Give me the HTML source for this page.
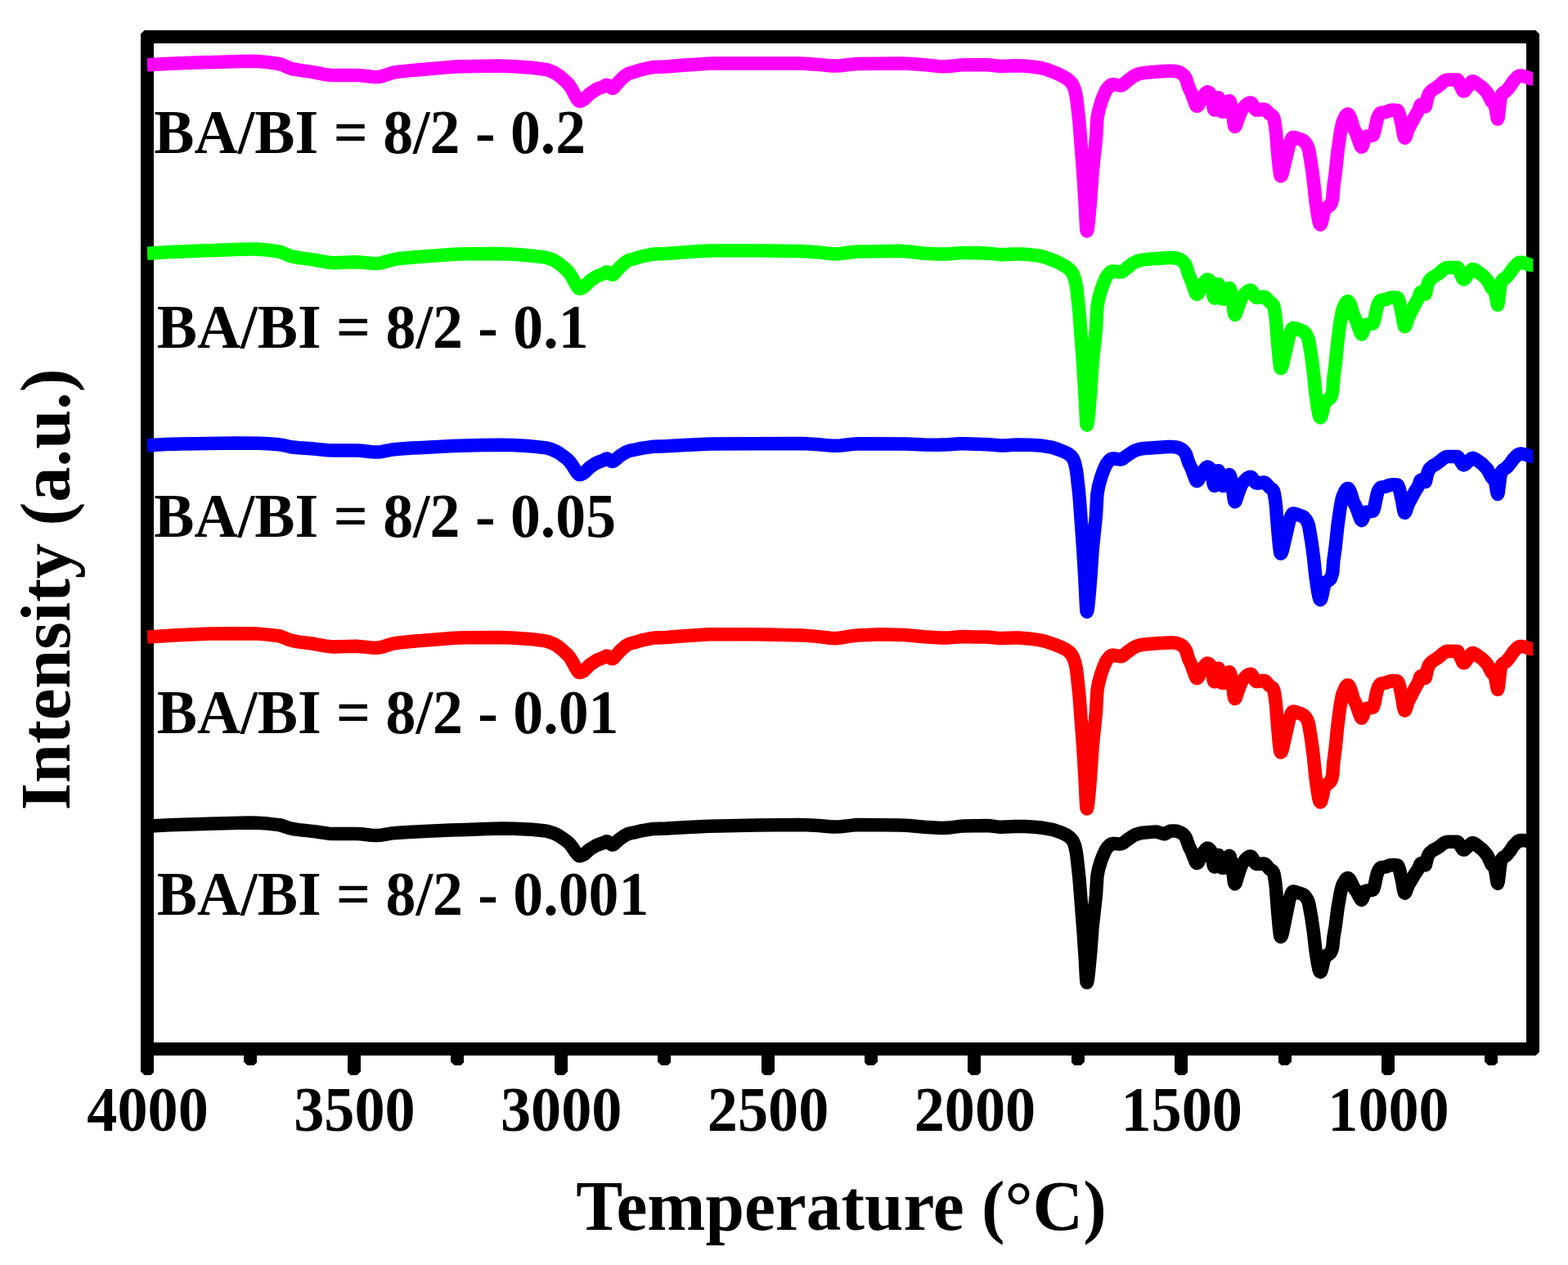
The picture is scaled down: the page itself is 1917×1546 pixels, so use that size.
<!DOCTYPE html>
<html lang="en"><head><meta charset="utf-8"><title>FTIR spectra</title>
<style>html,body{margin:0;padding:0;background:#fff}body{width:1917px;height:1546px;overflow:hidden}svg{display:block}text{font-family:"Liberation Serif",serif;font-weight:bold;fill:#000}</style></head><body>
<svg role="img" aria-label="FTIR spectra of BA/BI = 8/2 samples" width="1917" height="1546" viewBox="0 0 1917 1546">
<rect width="1917" height="1546" fill="#fff"/>
<g fill="#000" shape-rendering="crispEdges">
<path fill-rule="evenodd" d="M176.5 37H1877.5L1882 41.5V1285.5L1877.5 1290H176.5L172 1285.5V41.5ZM188 53H1866V1274H188Z"/>
<path d="M172.0 1280V1310L176.0 1314H184.0L188.0 1310V1280Z"/>
<path d="M298.4 1280V1298L302.4 1302H310.4L314.4 1298V1280Z"/>
<path d="M424.8 1280V1310L428.8 1314H436.8L440.8 1310V1280Z"/>
<path d="M551.2 1280V1298L555.2 1302H563.2L567.2 1298V1280Z"/>
<path d="M677.6 1280V1310L681.6 1314H689.6L693.6 1310V1280Z"/>
<path d="M804.0 1280V1298L808.0 1302H816.0L820.0 1298V1280Z"/>
<path d="M930.5 1280V1310L934.5 1314H942.5L946.5 1310V1280Z"/>
<path d="M1056.9 1280V1298L1060.9 1302H1068.9L1072.9 1298V1280Z"/>
<path d="M1183.3 1280V1310L1187.3 1314H1195.3L1199.3 1310V1280Z"/>
<path d="M1309.7 1280V1298L1313.7 1302H1321.7L1325.7 1298V1280Z"/>
<path d="M1436.1 1280V1310L1440.1 1314H1448.1L1452.1 1310V1280Z"/>
<path d="M1562.5 1280V1298L1566.5 1302H1574.5L1578.5 1298V1280Z"/>
<path d="M1688.9 1280V1310L1692.9 1314H1700.9L1704.9 1310V1280Z"/>
<path d="M1815.3 1280V1298L1819.3 1302H1827.3L1831.3 1298V1280Z"/>
</g>
<clipPath id="plot"><rect x="180" y="0" width="1694.3" height="1546"/></clipPath>
<g fill="none" stroke-width="16.5" stroke-linejoin="round" stroke-linecap="butt" clip-path="url(#plot)">
<path stroke="#000000" d="M180 1009.7L207 1008.3L231.5 1007.4L293 1005.8L307 1005.6L315.5 1005.8L327.5 1006.6L341 1008.1L344.5 1008.9L353.5 1012L357.8 1013L365.5 1014.1L384 1016.1L401.5 1018.7L407.5 1019.1L435.5 1018.9L441 1019.3L454 1020.8L460 1021.1L466 1020.7L479.5 1018.4L487 1017.7L503 1016.8L550.5 1014.6L570.6 1014.1L595 1013L613 1012.5L629 1012.8L650 1013.7L665 1015.2L669 1015.8L676.5 1018.1L679.5 1019.4L683 1021.2L692.5 1027.7L695 1029.8L697 1032L699.5 1035.1L703 1040.4L706 1044.3L707.5 1045.9L708.4 1046.2L710.5 1045.8L714 1044.2L721 1038L728.5 1033.5L731 1032.4L737.6 1030.2L741 1028.5L741.8 1028.3L742.5 1028.5L747.5 1032.1L748.5 1032.5L749.5 1032.4L750.5 1031.7L756.5 1026.4L760.5 1023.4L765 1020.5L768 1019.1L770.5 1018.3L775.5 1017.4L784 1015.3L796 1013.3L799.5 1012.9L814.5 1012.5L836 1011.2L866.5 1009.7L925 1008.4L976.5 1007.9L986 1008.2L1001 1009L1014.5 1010.3L1020 1010.6L1027.5 1010.3L1042.5 1008.6L1049 1008.1L1100.7 1008.4L1111.5 1009L1130 1010.8L1151.5 1011.9L1160 1011.6L1173 1009.9L1178 1009.5L1206 1009.1L1210 1009.3L1219.5 1010.4L1224 1010.7L1241.5 1009.9L1253 1009.9L1265 1010.8L1273 1011.5L1278 1012.3L1286.7 1013.9L1290 1014.9L1297.5 1017.6L1304 1020.6L1307.5 1023L1310 1025.5L1311.5 1027.6L1312.5 1029.5L1314 1033.3L1315.5 1039.8L1316.5 1046.2L1319.5 1074L1324.5 1138.2L1326.5 1167.4L1328 1194.8L1328.5 1200.1L1328.8 1200.8L1329 1200.6L1329.5 1199.1L1330 1196.3L1331.5 1182.9L1333.5 1160.8L1335.5 1133.3L1339.9 1094.6L1341.4 1070.9L1343 1062.2L1346 1052.3L1348.5 1045.8L1352 1038.3L1353.5 1036.1L1356 1033.4L1357.5 1032.1L1359 1031.3L1360.5 1031L1362.5 1031L1368.5 1031.5L1371.5 1031.1L1373.5 1030.1L1377.5 1026.9L1385 1021.7L1387.5 1020.4L1391.5 1019L1394.5 1018.2L1397.5 1017.7L1413.5 1016.4L1423.5 1019.3L1430.3 1015.8L1433.5 1015.6L1437 1015.6L1438.5 1015.8L1441 1016.5L1444 1017.8L1445.5 1018.7L1447 1020L1449.5 1023.1L1450.5 1025.3L1453.3 1033.7L1456.6 1040.2L1461.5 1052.7L1462.5 1054.5L1463.3 1055L1464 1054.7L1465 1053.6L1469 1045.5L1473 1039.3L1474.5 1037.5L1476 1036.6L1477 1036.7L1478.5 1037.7L1480 1039.5L1480.5 1040.6L1482 1047.2L1483.3 1055.9L1484 1058.4L1484.7 1059.5L1485 1059.2L1485.5 1057.9L1488.5 1047.1L1489 1045.8L1489.5 1045.1L1489.7 1045.1L1490 1045.5L1490.5 1047.4L1493 1059.8L1493.3 1060.4L1495.5 1060.8L1496 1060.8L1496.5 1060.3L1497 1059.2L1499 1052.9L1501 1048.5L1502 1046.7L1502.5 1046.1L1503 1045.9L1503.5 1046.3L1504 1047.5L1506.2 1057L1507 1062.4L1508.5 1075.3L1509 1078.5L1509.5 1080.2L1509.7 1080.3L1510 1080.2L1510.5 1079.5L1511 1078.3L1513.5 1069.7L1516.5 1060.7L1518 1056.9L1519.5 1054.6L1522.5 1050.7L1524.5 1048.6L1526 1047.4L1527.5 1046.7L1528.5 1046.5L1529.5 1046.6L1530 1047L1531.5 1049.1L1534.5 1054.4L1535.5 1055.6L1536 1055.9L1538.5 1056L1544.5 1055.5L1546 1055.7L1547 1056.2L1548.5 1057.7L1552 1061.9L1555 1064L1556 1064.9L1557 1066.5L1557.5 1068.2L1559 1077L1560 1085.9L1562 1112.8L1564 1134.7L1565 1142.6L1565.5 1144.6L1565.8 1145L1566.5 1144.4L1567 1143.3L1568 1139.9L1576 1100.5L1578.5 1093L1580 1090L1580.9 1089.5L1582.5 1089.7L1590.5 1092.1L1593 1093.1L1594.5 1094.1L1596 1095.6L1598.5 1099.6L1599.5 1101.8L1600.5 1105.7L1603.5 1122.3L1606 1139.8L1608.4 1161.1L1611 1177.6L1612.5 1184.7L1613.5 1187.4L1614.3 1188L1615 1187.3L1615.5 1186.1L1616.5 1182.5L1618.5 1173.8L1619.5 1170.5L1620 1169.5L1621.5 1168L1624.5 1166.3L1626 1165.1L1627.5 1162.9L1628.5 1160L1629.3 1157L1630.3 1146.1L1632.6 1132.4L1635.5 1110L1638.5 1092.7L1640.5 1084.2L1641.5 1081.1L1644.5 1075.8L1645.5 1074.5L1646.5 1073.6L1647.5 1073.1L1648.5 1073.2L1650.5 1075.3L1652.5 1079.2L1654.5 1084L1658 1088.7L1662.5 1097.2L1664 1099.4L1664.6 1099.8L1665 1099.6L1666 1097.9L1667.5 1094.1L1668.5 1090.5L1669.2 1089.1L1671.5 1088.5L1678 1087.7L1678.5 1087.5L1679 1086.8L1680.5 1082.3L1683 1070.6L1684 1067.1L1685.5 1063.4L1687.5 1060.7L1688 1060.4L1689 1060.1L1694.5 1059.3L1698 1057.8L1699.3 1057.4L1703.8 1057L1708.4 1057.4L1709 1057.9L1709.5 1058.8L1711 1062.9L1714 1076.2L1716 1087.7L1717 1091.2L1717.5 1091.5L1718 1091.1L1719 1089.2L1721.7 1081.8L1727 1073.1L1729.5 1068.6L1733.5 1062.7L1734.8 1060.2L1736 1056.6L1736.5 1055.7L1737.5 1055L1738.5 1054.9L1740.5 1056L1742 1057.2L1742.7 1057.4L1743 1056.7L1744.5 1050.2L1745.5 1047L1747 1043.7L1748 1042.4L1751.5 1039.4L1757 1036.5L1760.5 1034.1L1764.5 1030.9L1767.5 1029.3L1770 1028.8L1781.7 1028.8L1782.5 1029.2L1783 1029.8L1787.5 1036.9L1788.5 1038.2L1789 1038.5L1790 1038.5L1791 1038L1798.5 1031L1799.5 1030.4L1800.5 1030.1L1802 1030.5L1804.5 1032L1808.1 1035.1L1811.5 1037.6L1813 1039L1817.5 1044.4L1818.5 1045.8L1823.5 1056.4L1826.5 1059.9L1827.7 1061.9L1828.5 1065.7L1830.2 1076.7L1830.5 1078.5L1831 1079.8L1831.8 1077L1834 1058.1L1835.3 1051.3L1836.5 1049.2L1837.5 1048.1L1841 1045.9L1843 1043.9L1846 1040.2L1850 1034.1L1851.5 1032.4L1855.5 1028.4L1857 1027.6L1858.5 1027.1L1861 1027L1864.5 1027.3L1871 1028.8L1880.2 1028.1"/>
<path stroke="#ff0000" d="M180 778.5L216 776.2L257.5 774.4L293.5 774.2L315.5 774.6L327.5 775.6L341 777.3L344.5 778.3L353.5 781.9L357.8 783.2L366 784.6L383.5 786.8L397 789.3L402 790L407.9 790.4L435.5 789.8L441 790.2L453.5 791.4L459.5 791.7L462.5 791.6L465.5 791.1L469 790.2L480 786.7L488 785.5L504.5 783.8L555.5 779.8L570.6 779.2L609.5 778.9L625 779.4L643.5 780.7L652 781.4L665 783.1L668 783.6L671.5 784.7L675.5 786.3L678 787.5L681 789.3L685 792.2L693 799.3L695 801.4L697 804.1L699.5 808.1L703 814.7L706 819.7L707.5 821.6L708.4 822L710.5 821.6L714 819.7L715.5 818.3L721 812.6L728.5 807.5L731 806.3L737.6 803.8L741 801.8L741.8 801.6L742.5 801.8L748 805L748.9 805.1L749.5 804.9L750.5 804.1L752.5 801.6L756.5 797.2L760.5 793.2L765 789.4L768.5 787.3L770.5 786.5L775.5 785.3L784 782.6L796 780.1L799.5 779.6L814.5 779L836 777.3L867 775.3L875 775.2L925 775.2L981 776.4L1001.5 778.1L1014.5 779.7L1020.6 780.2L1028 779.5L1042 777.2L1048 776.5L1075 775.2L1106 776.1L1114.5 776.7L1130 778.2L1150 779.4L1160 779.4L1173 778.3L1178.5 778.1L1192.5 778.5L1207 778.5L1220 779.9L1224 780.1L1240.5 779.5L1245.5 779.5L1257.5 780.4L1272 782.4L1278.5 784L1291 788.3L1297.5 790.9L1303.5 794L1307 796.6L1310 799.9L1312 803.5L1314 808.8L1315.5 815.5L1316.5 822.1L1319.5 850.5L1324.3 915L1326.5 951.4L1328 981.8L1328.5 987.6L1328.8 988.4L1329 988.1L1329.5 986.5L1330 983.5L1331.5 968.6L1333.5 944.1L1335.5 913.6L1339.9 870.9L1341.4 844.7L1343 835L1346 824.1L1348.5 816.9L1352 808.6L1353.5 806.2L1356 803.2L1357.5 801.7L1359 800.8L1360.1 800.6L1362.5 800.9L1369 802.2L1370.5 802.3L1371.5 802L1373.5 800.9L1377.5 797.5L1385 792L1387 790.9L1391 789.2L1394.5 788.2L1400 787.5L1414.5 786.3L1429 785.4L1433.5 785.5L1438 785.9L1441 786.8L1444 788.2L1446 789.6L1447.5 791.2L1449.4 793.9L1450 795L1453.3 805.7L1456.6 812.8L1461.5 826.5L1462.5 828.4L1463 828.9L1463.5 829L1464 828.7L1465 827.6L1469 819.5L1473 813.3L1474.5 811.5L1476 810.6L1477 810.7L1478.5 811.7L1480 813.5L1480.5 814.6L1482 821.1L1483.3 829.7L1484 832.2L1484.7 833.3L1485 832.9L1485.5 831.4L1488.5 819.1L1489 817.6L1489.5 816.8L1489.7 816.8L1490 817.3L1490.5 819.4L1493 833.7L1493.3 834.3L1494 834.6L1495.9 834.8L1496.5 834.3L1497.5 832L1499 827.7L1501 823.6L1502 822L1502.5 821.5L1503 821.3L1503.5 821.7L1504.5 824.5L1506.5 833.5L1508.5 849.2L1509 852.3L1509.5 853.9L1509.7 854L1510 853.9L1510.5 853.3L1511 852.2L1513.5 844.6L1516.5 836.5L1518 833.1L1519.5 831L1522.5 827.5L1524.5 825.7L1526 824.6L1527.5 824L1528.5 823.8L1529.5 823.9L1530 824.3L1531.5 826.3L1534.5 831.5L1535.5 832.6L1536 832.9L1538 832.8L1543 832L1545.4 831.8L1546.5 832.1L1547.5 832.8L1552 838L1555 840L1556 840.9L1557 842.5L1557.5 844.2L1559 852.8L1560 861.5L1562 887.9L1564 909.4L1565 917.1L1565.5 919.1L1565.8 919.5L1566.5 919L1567 918L1568 914.9L1576 879.4L1578.5 872.6L1580 869.9L1580.9 869.4L1582.5 869.6L1590.5 872.4L1593 873.5L1594.5 874.6L1596 876.3L1597.5 878.7L1598.5 880.7L1599.5 883.2L1600.5 887.7L1603.5 906.3L1606 926L1608.4 950L1611 968.6L1612.5 976.6L1613.5 979.6L1614.3 980.3L1614.5 980.2L1615 979.5L1615.5 978.2L1616.5 974.4L1618.5 965.1L1619.5 961.6L1620 960.5L1621.5 958.9L1624.5 957.1L1626 955.8L1626.8 954.8L1627.5 953.4L1628.5 950.3L1629.3 946.4L1630.3 932.2L1632.6 914.4L1635.5 885.3L1638.5 862.7L1640.5 851.7L1641.5 847.7L1644.5 840.7L1646 838.4L1647 837.4L1647.9 837.2L1648.5 837.4L1649.5 838.8L1650.5 840.6L1652.5 846.5L1654.5 853.8L1658 860.8L1662.5 873.8L1664 877.1L1664.5 877.7L1665 877.5L1666 875.6L1667.5 871.6L1668.5 867.8L1669.2 866.3L1671.5 865.6L1678 864.8L1678.5 864.6L1679 863.8L1680.5 859.1L1683 846.5L1684 842.8L1685 839.8L1687 836.5L1688.4 835.4L1694.5 834.5L1698 832.8L1699.3 832.5L1703.5 832L1707 832.2L1708.5 832.5L1709 833L1709.5 833.9L1710.9 838L1711.5 840.4L1714 852.4L1716 864.5L1717 868.1L1717.5 868.5L1718 868.1L1719 865.8L1721.7 857.2L1727 847L1729.5 841.8L1733.5 834.9L1734.8 832L1736 827.8L1736.5 826.8L1737.5 825.9L1738.5 825.8L1740.5 827.1L1742 828.5L1742.7 828.7L1743 827.9L1744.5 820.4L1745.5 816.8L1747 812.9L1748 811.4L1751.5 808L1757 804.6L1760.5 801.9L1764.5 798.2L1767.5 796.4L1768.5 796L1770 795.8L1782 795.9L1783 797.2L1788 808.8L1788.5 809.6L1789 810.2L1789.4 810.3L1790.5 809.9L1791.5 808.9L1794.5 804.5L1798 799.9L1799 798.8L1800 798.1L1800.5 798L1801.5 798.2L1804 799.5L1811.5 804.8L1813.5 806.5L1818 811.5L1819 813L1823.5 821.6L1826.5 824.8L1827.5 826.4L1828 827.7L1828.5 830L1830.2 840L1831 842.7L1831.5 841.4L1831.8 839.9L1834 821L1835 815.2L1835.5 813.7L1836.5 812L1837.5 811L1841 808.8L1843 806.7L1846.5 802.3L1850.2 796.7L1854.5 792.1L1855.5 791.2L1857 790.4L1858.5 789.9L1859.5 789.9L1864.5 790.7L1871 792.9L1874.5 793.1L1880.2 793.1"/>
<path stroke="#0000ff" d="M180 544.2L203 543.1L222 542.4L290.5 541.5L316.5 541.8L328 542.3L341 543.3L344.5 543.8L353.5 545.8L357.5 546.5L365.5 547.3L384 548.6L400.5 550.3L407.5 550.6L435.5 550.4L441 550.8L454 552.3L460.5 552.6L466 552.2L479.5 549.5L487.5 548.7L504 547.6L553.5 545.1L590.5 544L611 543.7L626 544L644.5 545L652 545.6L668 547.4L671.5 548.4L675.5 549.7L681 552.3L685 554.7L693 560.8L695 562.6L697 564.9L699.5 568.3L703 574L706 578.2L707.5 579.9L708.4 580.2L710.5 579.8L714 577.9L715.5 576.7L721 571.2L728.5 566.2L731 565L737.6 562.6L741 560.7L741.8 560.5L742.5 560.7L747.5 563.7L748.5 564L749.5 563.9L750.5 563.3L756.5 558.3L760.5 555.5L765 552.7L768 551.5L770.5 550.7L775.5 549.8L784 547.9L796 546.1L799.5 545.7L814.5 545.3L836.5 544L869 542.6L976.5 542.1L986 542.3L1001 543.2L1015 544.6L1021 544.8L1027.5 544.5L1043 542.7L1049.5 542.3L1107 542.5L1130 543.5L1146.5 543.7L1160.5 543.3L1173 542.3L1178.5 542.2L1208.5 543.3L1223.5 544.5L1228 544.4L1242.5 543.5L1258 543.7L1272 544.5L1281 545.8L1286.7 546.9L1294 549.3L1301 552.1L1306.5 555.1L1309.5 557.4L1311.5 559.9L1313.4 564.2L1314.5 567.9L1315.9 574.7L1316.5 579L1319 601.3L1320 612.9L1324.3 672.6L1326.5 709.8L1328 740.9L1328.5 746.9L1328.8 747.7L1329 747.4L1329.5 745.8L1330 742.8L1331.5 728L1333.5 703.5L1335.5 673.1L1339.9 630.5L1341.4 604.3L1343 594.7L1346 583.8L1348.5 576.6L1352 568.4L1353.5 566L1356 562.9L1357.5 561.5L1359 560.6L1360.5 560.4L1362.5 560.5L1368.5 561.4L1370.5 561.4L1371.5 561.2L1373.5 560.1L1377.5 557L1384.5 552.3L1386.5 551.2L1390 549.8L1394 548.7L1399 548L1413.5 546.9L1428.5 546.1L1433 546.1L1438 546.5L1441 547.3L1444 548.7L1446 550.1L1447.5 551.6L1449.4 554.2L1450 555.3L1453.3 565.6L1456.6 572.4L1461.5 585.5L1462.5 587.5L1463 587.9L1463.5 588L1464 587.7L1465 586.6L1469 579L1473 573.1L1474.5 571.4L1476 570.5L1477 570.6L1478.5 571.6L1480 573.5L1480.5 574.6L1482 581.3L1483.3 590.1L1484 592.7L1484.7 593.8L1485 593.4L1485.5 591.7L1488.5 577.9L1489 576.2L1489.5 575.3L1489.7 575.3L1490 575.8L1490.5 578L1492.5 590.1L1493 592.6L1493.5 593.4L1495.9 593.8L1496.5 593.3L1497.5 591L1499 586.6L1501 582.4L1502 580.8L1502.5 580.3L1503 580.1L1503.5 580.5L1504.5 583.3L1506.5 592.5L1508.5 608.5L1509 611.5L1509.5 613.2L1509.7 613.3L1510 613.2L1510.5 612.6L1511 611.5L1513.5 603.8L1516.5 595.7L1518 592.2L1519 590.7L1522 587.1L1524 585.1L1525.5 583.9L1527.5 583L1528.9 582.8L1529.5 582.9L1531 584.3L1534.5 589.4L1536 590.6L1538 590.5L1545 589.5L1546 589.6L1547 590.1L1548.5 591.6L1552 595.6L1555 597.7L1556 598.6L1557 600.1L1557.5 601.8L1559 610.3L1560 619L1562 645.2L1564 666.6L1565 674.2L1565.5 676.2L1565.8 676.6L1566.5 676.1L1567 675.1L1568 672.1L1576 637.3L1578.5 630.6L1580 628L1580.9 627.5L1582.5 627.7L1590.5 630.3L1593 631.4L1594.5 632.4L1596 634.1L1597.5 636.4L1598.5 638.3L1599.5 640.6L1600.5 644.9L1603.5 662.6L1606 681.3L1608.4 704.2L1611 721.9L1612.5 729.4L1613.5 732.3L1614.3 733L1614.5 732.9L1615 732.2L1615.5 730.9L1616.5 727L1618.5 717.5L1619.5 713.9L1620 712.8L1621.5 711.2L1624.5 709.3L1626 708L1626.8 707L1627.5 705.6L1628.5 702.4L1629.3 698.8L1630.3 685.5L1632.6 669L1635.5 641.8L1638.5 620.7L1640.5 610.4L1641.5 606.7L1644.5 600.2L1646 598L1647 597.1L1647.9 596.9L1648.5 597.1L1649.5 598.4L1650.5 600.2L1652.5 605.9L1654.5 612.9L1658 619.7L1662.5 632.2L1664 635.4L1664.6 636L1665 635.8L1666 634.2L1667.5 630.8L1668.5 627.5L1669.2 626.2L1671.5 625.6L1678 624.9L1678.5 624.7L1679 623.9L1680.5 619.2L1683 606.7L1684 602.9L1685 599.9L1687 596.7L1688.4 595.6L1694.5 594.7L1698 593L1699.3 592.7L1703.5 592.2L1707 592.4L1708.5 592.7L1709 593.1L1709.5 594L1710.9 597.9L1711.5 600.1L1714 611.4L1716 622.9L1717 626.4L1717.5 626.7L1718 626.3L1719 624.1L1721.7 616L1727 606.3L1729.5 601.4L1733.5 594.9L1734.8 592.1L1736 588.2L1736.5 587.2L1737.5 586.4L1738.5 586.3L1740.5 587.4L1742 588.8L1742.7 589L1743 588.2L1744.5 581.1L1745.5 577.8L1747 574.1L1748 572.7L1751.5 569.5L1756.5 566.7L1760.5 563.7L1764.5 560.3L1766.5 559L1768 558.3L1770 558L1782 558.1L1783 559L1788 567.3L1788.5 567.9L1789.4 568.4L1790.5 568.1L1791.5 567.4L1794.5 564.4L1798.5 560.7L1799.5 560.1L1800.5 559.8L1802 560.2L1804.5 561.5L1808.1 564.2L1811.5 566.5L1813.5 568.3L1818 573.1L1819 574.6L1823.5 583.2L1826.5 586.3L1827.5 587.8L1828 589.2L1828.5 591.4L1830.2 601.3L1831 604L1831.5 602.8L1831.8 601.4L1834 583.7L1835 578.3L1835.5 576.9L1836.5 575.3L1837.5 574.3L1841 572.2L1843 570.4L1846.5 566.2L1850.2 561L1854.5 556.7L1855.5 555.8L1857.5 554.9L1858.5 554.6L1860 554.6L1865 555.5L1871 557.6L1874.5 557.8L1880.2 557.8"/>
<path stroke="#00ff00" d="M180 309.8L207 308.1L231.5 307L293 304.7L307.5 304.4L314 304.6L326.5 305.5L341 307.5L344.5 308.5L353.5 312.3L357.8 313.7L366 315.1L383.5 317.4L397 320L402 320.8L407.9 321.2L435.5 320.3L441 320.6L453.5 321.7L458.5 321.9L462 321.8L465.5 321.4L469 320.5L480 317.3L488.5 316L504.5 314.5L555 310.8L570.6 310.2L608.2 310L622.5 310.5L639 311.6L651.5 312.7L667 314.6L670 315.4L673 316.5L676.5 317.9L679.5 319.6L684.5 322.9L693 330.3L694.6 331.9L696.5 334.4L699.2 338.6L703.5 346.5L706.5 351.3L707.5 352.4L708.4 352.8L710.5 352.4L714 350.5L715.5 349.1L721 343.4L728.5 338.3L731 337.1L737.6 334.6L741 332.6L742.5 332.5L748 335.7L748.9 335.8L749.5 335.6L750.5 334.8L752.5 332.3L756.5 328L760.5 324L765 320.2L768.5 318.2L770.5 317.4L775.5 316.2L784 313.5L796 311L799.5 310.5L814 310L834.5 308.4L854.5 307L872.5 306.2L925 306.2L978 306.9L986.5 307.3L1001 308.4L1014.5 310L1020.6 310.4L1027.5 310L1042.5 308L1049 307.4L1100.7 306.7L1111.5 307.5L1130 309.7L1146.5 310.5L1159 310.4L1174 309.1L1180 308.9L1207.5 309.6L1220 310.9L1224 311.2L1241 310.5L1249 310.6L1259.5 311.3L1271.5 312.8L1275 313.6L1278.5 314.7L1290.5 319.3L1297.5 322.6L1304 326.5L1307.5 329.2L1310 332.1L1312 335.6L1314 340.9L1315.5 347.6L1316.5 354.1L1319.5 382.4L1324.3 446.6L1326.5 482.8L1328 513L1328.5 518.8L1328.8 519.6L1329 519.3L1329.5 517.7L1330 514.6L1331.5 499.8L1333.5 475.2L1335.5 444.7L1339.9 401.8L1341.4 375.5L1343 365.9L1346 354.9L1348.5 347.7L1352 339.4L1353.5 337L1356 334L1357.5 332.5L1359 331.6L1360.1 331.4L1362.5 331.5L1368.5 332.5L1370.5 332.6L1371.5 332.3L1373.5 331.1L1377.5 327.6L1385 321.8L1387.5 320.5L1391.5 318.8L1395 317.9L1400.5 317.1L1414.5 315.9L1429 315L1433.5 315.1L1438 315.5L1441 316.4L1444 317.9L1446 319.4L1447.5 321L1449.4 323.7L1450 324.9L1453.3 335.9L1456.6 343.1L1461.5 357.2L1462.5 359.2L1463 359.7L1463.5 359.8L1464 359.5L1465 358.4L1469 350.4L1473 344.3L1474.5 342.5L1476 341.6L1477 341.7L1478.5 342.7L1480 344.5L1480.5 345.6L1482 352.2L1483.3 360.9L1484 363.4L1484.7 364.5L1485 364.1L1485.5 362.5L1488.5 349.7L1489 348.2L1489.5 347.3L1489.7 347.3L1490 347.8L1490.5 350L1492.5 362L1493 364.4L1493.5 365.2L1495.9 365.6L1496.5 365.1L1497.5 362.8L1499 358.4L1501 354.3L1502 352.7L1502.5 352.2L1503 352L1503.5 352.4L1504.5 355.2L1506.5 364.2L1508.5 380L1509 383.1L1509.5 384.7L1509.7 384.8L1510 384.7L1510.5 384.1L1511 383.1L1513.5 375.4L1516.5 367.4L1518 364L1519.5 361.9L1522.5 358.4L1524.5 356.5L1526 355.5L1527.5 354.9L1528.5 354.7L1529.5 354.8L1530 355.2L1531.5 357.2L1534.5 362.4L1535.5 363.5L1536 363.8L1538 363.7L1543 362.9L1545.4 362.7L1546.5 363L1547.5 363.7L1552 368.8L1555 370.9L1556 371.8L1557 373.3L1557.5 375.1L1559 383.7L1560 392.4L1562 418.7L1564 440.2L1565 447.9L1565.5 449.9L1565.8 450.3L1566.5 449.8L1567 448.8L1568 445.7L1576 410.6L1578.5 403.9L1580 401.2L1580.9 400.7L1582.5 400.9L1590.5 403.6L1593 404.8L1594.5 405.8L1596 407.5L1597.5 409.9L1598.5 411.9L1599.5 414.4L1600.5 418.8L1603.5 437.2L1606 456.6L1608.4 480.3L1611 498.8L1612.5 506.6L1613.5 509.6L1614.3 510.3L1614.5 510.2L1615 509.5L1615.5 508.3L1616.5 504.6L1618.5 495.7L1619.5 492.3L1620 491.2L1621.5 489.7L1624.5 487.9L1626 486.7L1627.5 484.4L1628.5 481.4L1629.3 477.5L1630.3 463.3L1632.6 445.5L1635.5 416.3L1638.5 393.7L1640.5 382.6L1641.5 378.6L1644.5 371.6L1646 369.3L1647 368.4L1647.9 368.1L1648.5 368.3L1649.5 369.7L1650.5 371.5L1652.5 377.4L1654.5 384.6L1658 391.7L1662.5 404.6L1664 407.9L1664.5 408.5L1665 408.3L1666 406.4L1667.5 402.4L1668.5 398.6L1669.2 397.1L1671.5 396.4L1678 395.6L1678.5 395.4L1679 394.7L1680.5 390L1683.5 375.8L1685 371.1L1686.5 368.6L1687.5 367.4L1688.4 366.9L1694.5 365.9L1698 364.3L1699.3 363.9L1703.5 363.5L1707 363.7L1708.5 364L1709 364.4L1709.5 365.4L1710.9 369.4L1711.5 371.7L1714 383.5L1716 395.4L1717 398.9L1717.5 399.3L1718 398.9L1719 396.6L1721.7 388L1727 377.8L1729.5 372.5L1733.5 365.7L1734.8 362.7L1736 358.5L1736.5 357.5L1737.5 356.6L1738.5 356.5L1740.5 357.8L1742 359.2L1742.7 359.4L1743 358.6L1744.5 351.2L1745.5 347.6L1747 343.8L1748 342.4L1751.5 339L1757 335.7L1760.5 333L1764.5 329.4L1767.5 327.6L1768.5 327.2L1770 327L1782 327.1L1783 328.4L1788 339.9L1788.5 340.7L1789 341.3L1789.4 341.4L1790.5 341L1791.5 339.9L1794.5 335.6L1798 330.9L1799 329.8L1800 329.1L1800.5 329L1801.5 329.2L1804 330.4L1811.5 335.6L1813.5 337.4L1818 342.2L1819 343.7L1823.5 352.1L1826.5 355.2L1827.5 356.7L1828 358L1828.5 360.3L1830.2 370L1831 372.7L1831.5 371.4L1831.8 369.9L1834 351.3L1835 345.6L1835.5 344.2L1836.5 342.5L1837.5 341.4L1841 339.3L1843 337.3L1846.5 332.9L1850.2 327.4L1854.5 322.9L1855.5 322L1857 321.2L1858.5 320.7L1859.5 320.7L1864.5 321.6L1871 323.9L1874.5 324.2L1880.2 324.3"/>
<path stroke="#ff00ff" d="M180 79.2L207.5 77.7L233 76.8L294 75L308 74.8L315.5 75L327.5 76.1L341 78L344.5 79L353.5 82.9L357.8 84.3L365.5 85.7L384 88.3L396.5 90.8L401.5 91.6L407.5 92.1L435.5 91.9L441 92.3L454 93.8L460 94.1L462.5 94L465.5 93.5L469 92.5L480 88.9L482.5 88.4L488 87.6L505 85.9L543.5 82.6L557 81.6L567 81.2L579.5 80.9L611.5 80.6L628.5 81.2L650 82.7L665 84.6L669 85.4L672.5 86.5L676.5 88.2L679.5 89.9L683 92.2L685 93.7L692.5 100.4L695 103L697 105.7L699.5 109.7L703 116.4L706 121.4L707.5 123.3L708.4 123.7L710.5 123.3L714 121.4L715.5 120.1L721 114.6L728.5 109.5L731 108.3L737.6 105.9L741 104L741.8 103.8L742.5 104L748 107.8L748.9 108L749.5 107.8L750.5 107L752.5 104.4L756.5 100L761 95.4L765 92L769 89.7L771 89L776 87.7L784.5 85L796 82.5L799.5 82L814 81.5L834.5 79.8L854.5 78.4L864.5 77.8L872.5 77.6L978.5 77.6L987 77.9L1001 78.9L1014.5 80.3L1020.6 80.6L1027.5 80.2L1042.5 78.4L1049 77.9L1101 77.6L1108.5 77.8L1118 78.3L1132 79.4L1146.5 80.9L1153 81.3L1160 81.1L1173 79.6L1178 79.2L1205.5 79.2L1210 79.5L1219.5 80.6L1224 80.9L1241.5 80.3L1250 80.5L1260 81.3L1271.5 82.8L1275 83.6L1278.5 84.6L1290.5 89L1297.5 92.2L1304 96L1307.5 98.7L1310 101.4L1312 104.8L1314 109.9L1315.5 116.4L1316.5 122.7L1319.5 149.9L1324.3 211.9L1326.5 246.8L1328 276L1328.5 281.6L1328.8 282.4L1329 282.2L1329.5 280.6L1330 277.7L1331.5 263.5L1333.5 240.1L1335.5 211L1339.9 170.2L1341.4 145.2L1343 136L1346.5 124L1349 117.4L1352.5 109.8L1355 106.6L1357.5 104.2L1359 103.3L1360.1 103.1L1362.5 103.3L1369 104.5L1370.5 104.6L1371.5 104.3L1373.5 103.1L1377.5 99.5L1385 93.7L1388 92L1392 90.4L1395.2 89.6L1401 88.8L1414.5 87.6L1429 86.7L1433.5 86.8L1438 87.2L1441 88.1L1444 89.5L1446 90.9L1447.5 92.4L1449.4 95.1L1450 96.2L1453.3 106.8L1456.6 113.8L1461.5 127.3L1462.5 129.2L1463 129.7L1463.5 129.8L1464 129.5L1465 128.4L1469 120.8L1473 114.9L1474.5 113.2L1476 112.3L1477 112.4L1478.5 113.4L1480 115.1L1480.5 116.2L1482 122.6L1483.3 131L1484 133.4L1484.7 134.5L1485 134.1L1485.5 132.8L1488.5 121.4L1489 120.1L1489.5 119.3L1489.7 119.3L1490 119.8L1490.5 121.8L1493 135.5L1493.3 136.1L1494 136.4L1495.9 136.6L1496.5 136.1L1497.5 133.9L1499 129.6L1501 125.6L1502 124L1502.5 123.5L1503 123.3L1503.5 123.7L1504.5 126.3L1506.5 135L1508.5 150.2L1509 153.1L1509.5 154.7L1509.7 154.8L1510 154.7L1510.5 154.1L1511 153.1L1513.5 145.7L1516.5 137.8L1518 134.5L1519.5 132.5L1522.5 129.1L1524.5 127.3L1526 126.3L1527.5 125.7L1528.5 125.5L1529.5 125.6L1530 126L1531.5 128L1534.5 133.2L1535.5 134.3L1536 134.6L1538 134.5L1545 133.5L1546 133.6L1547 134.1L1548.5 135.4L1552 139.2L1555 141.2L1556 142L1557 143.4L1557.5 145.1L1559 153.1L1560 161.2L1562 185.8L1564 205.9L1565 213.1L1565.5 214.9L1565.8 215.3L1566.5 214.8L1567 213.9L1568 210.9L1576 177.2L1578 171.9L1579.5 168.8L1580.5 167.8L1582.5 167.9L1591.5 170.9L1593.4 171.9L1594.5 172.7L1596.5 175.1L1598.5 178.6L1599.5 181L1600.5 185.3L1603 200L1604.7 211.9L1606.7 228.6L1608.4 245.3L1610.5 260.1L1612.5 270.9L1613.5 273.8L1614.3 274.5L1614.5 274.4L1615 273.7L1615.5 272.5L1616.5 268.8L1618.5 259.9L1619.5 256.5L1620 255.4L1621.5 253.9L1624.5 252.1L1626 250.9L1627.5 248.6L1628.5 245.6L1629.3 242L1630.3 228.6L1632.6 211.9L1635.5 184.6L1638.5 163.4L1640.5 153L1641.5 149.2L1644.5 142.7L1646 140.5L1647 139.6L1647.9 139.4L1648.5 139.6L1649.5 141L1650.5 142.8L1652.5 148.6L1654.5 155.9L1658 162.9L1662.5 175.8L1664 179.1L1664.6 179.7L1665 179.5L1666 177.5L1667.5 173L1668.5 168.8L1669.2 167.2L1671.5 166.5L1678 165.6L1678.5 165.4L1679 164.7L1680.5 160.2L1683.5 146.4L1685 141.9L1686.5 139.4L1687.5 138.3L1688.4 137.8L1694.5 136.9L1699 135L1703 134.5L1707 134.7L1708.5 135L1709 135.4L1709.5 136.3L1710.9 140.1L1711.5 142.3L1714 153.5L1716 164.8L1717 168.2L1717.5 168.5L1718 168.1L1719 165.9L1721.7 157.6L1727 147.9L1729.5 142.8L1733.5 136.2L1734.8 133.4L1736 129.4L1736.5 128.4L1737.5 127.6L1738.5 127.5L1740.5 128.7L1742 130L1742.7 130.3L1743 129.5L1744.5 122.1L1745.5 118.5L1747 114.6L1748 113.1L1751.5 109.7L1756.5 106.7L1760.5 103.6L1764.5 99.9L1766.5 98.6L1768 97.9L1770 97.5L1782 97.6L1783 98.9L1788 110.1L1788.5 111L1789 111.5L1789.4 111.6L1790.5 111.2L1791.5 110.2L1794.5 105.8L1798 101.2L1799 100.1L1800 99.4L1800.5 99.3L1801.5 99.5L1804 100.8L1811.5 106.3L1813.5 108.1L1818 113.2L1819 114.8L1823.5 123.7L1826.5 127L1827.5 128.6L1828 130L1828.5 132.4L1830.2 142.7L1831 145.5L1831.5 144.2L1831.8 142.7L1834 123.6L1835 117.8L1835.5 116.4L1836.5 114.7L1837.5 113.6L1841 111.4L1843 109.3L1846.5 104.9L1850.2 99.3L1854.5 94.6L1855.5 93.7L1857 92.9L1858.5 92.4L1859.5 92.4L1864.5 93.5L1871 96.1L1875 96.5L1880.2 96.8"/>
</g>
<text transform="translate(180.6 1381.6) scale(0.99 1.055)" font-size="75" text-anchor="middle">4000</text>
<text transform="translate(433.4 1381.6) scale(0.99 1.055)" font-size="75" text-anchor="middle">3500</text>
<text transform="translate(686.2 1381.6) scale(0.99 1.055)" font-size="75" text-anchor="middle">3000</text>
<text transform="translate(939.1 1381.6) scale(0.99 1.055)" font-size="75" text-anchor="middle">2500</text>
<text transform="translate(1191.9 1381.6) scale(0.99 1.055)" font-size="75" text-anchor="middle">2000</text>
<text transform="translate(1444.7 1381.6) scale(0.99 1.055)" font-size="75" text-anchor="middle">1500</text>
<text transform="translate(1697.5 1381.6) scale(0.99 1.055)" font-size="75" text-anchor="middle">1000</text>
<text transform="translate(1028.5 1502.5) scale(0.993 1.0)" font-size="86" text-anchor="middle">Temperature (°C)</text>
<text transform="translate(85 720.5) rotate(-90) scale(1.005 1.0)" font-size="86" text-anchor="middle">Intensity (a.u.)</text>
<text transform="translate(188.3 186.8) scale(0.984 1.018)" font-size="75">BA/BI = 8/2 - 0.2</text>
<text transform="translate(191.7 424.8) scale(0.984 1.018)" font-size="75">BA/BI = 8/2 - 0.1</text>
<text transform="translate(188.3 656.1) scale(0.984 1.018)" font-size="75">BA/BI = 8/2 - 0.05</text>
<text transform="translate(191.7 895.5) scale(0.984 1.018)" font-size="75">BA/BI = 8/2 - 0.01</text>
<text transform="translate(191.7 1118.3) scale(0.984 1.018)" font-size="75">BA/BI = 8/2 - 0.001</text>
</svg></body></html>
